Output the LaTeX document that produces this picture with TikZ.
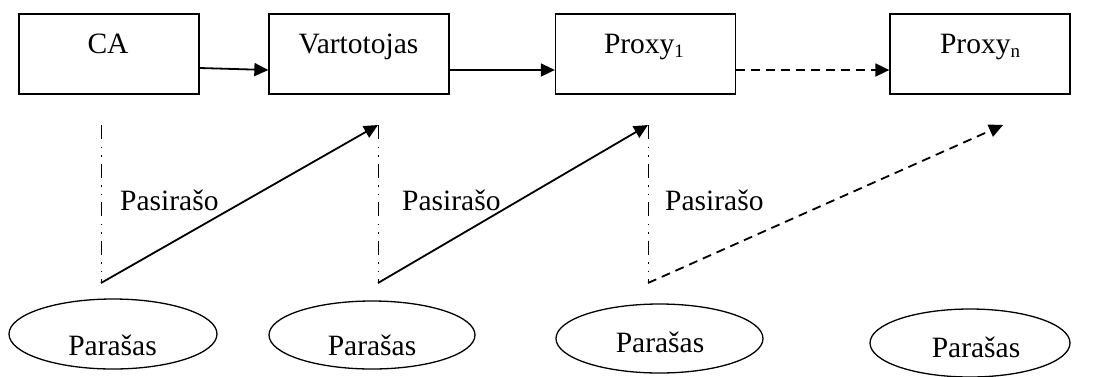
\documentclass[tikz,border=0pt]{standalone}
\usepackage{fontspec}
\setmainfont{Liberation Serif}
\usetikzlibrary{arrows.meta,shapes.geometric}
\newcommand{\lowidx}[1]{\raisebox{-4pt}{\fontsize{19}{20}\selectfont #1}}
\begin{document}
\begin{tikzpicture}[x=1pt,y=-1pt,
  box/.style={draw, line width=1.3pt, minimum width=180pt, minimum height=80pt, inner sep=0pt},
  oval/.style={draw, ellipse, line width=1.3pt, inner sep=0pt},
  txt/.style={anchor=base, inner sep=0pt, font=\fontsize{29.5}{34}\selectfont},
  lbl/.style={anchor=base west, inner sep=0pt, font=\fontsize{29.5}{34}\selectfont},
  arr/.style={line width=1.8pt, -{Triangle[length=14pt,width=13pt]}},
  dsh/.style={dash pattern=on 9pt off 6pt},
  guide/.style={line width=1pt, dash pattern=on 14pt off 7.5pt on 1.5pt off 7pt on 1.5pt off 7pt}
]
\useasboundingbox (0,0) rectangle (1110,376);

% chain of certificate holders
\node[box] (ca)   at (109,54)   {};
\node[box] (vart) at (359,54)   {};
\node[box] (px1)  at (645.5,54) {};
\node[box] (pxn)  at (980,54)   {};
\node[txt] (ca-t)   at (108,53)   {CA};
\node[txt] (vart-t) at (358.5,53) {Vartotojas};
\node[txt] (px1-t)  at (644,53)   {Proxy\lowidx{1}};
\node[txt] (pxn-t)  at (980,53)   {Proxy\lowidx{n}};

\draw[arr] ([yshift=-14pt]ca.east) -- ([yshift=-16pt]vart.west);
\draw[arr] ([yshift=-16pt]vart.east) -- ([yshift=-16pt]px1.west);
\draw[arr,dsh] ([yshift=-16pt]px1.east) -- ([yshift=-16pt]pxn.west);

% signing steps
\coordinate (g1t) at (101,125);
\coordinate (g1b) at (101,283);
\coordinate (g2t) at (378,125);
\coordinate (g2b) at (378,283);
\coordinate (g3t) at (648,125);
\coordinate (g3b) at (648,283);
\coordinate (g4t) at (1003,125);

\draw[guide] (g1t) -- (g1b);
\draw[guide] (g2t) -- (g2b);
\draw[guide] (g3t) -- (g3b);
\draw[arr] (g1b) -- (g2t);
\draw[arr] (g2b) -- (g3t);
\draw[arr,dsh] (g3b) -- (g4t);

\node[lbl] (s1) at (120,210) {Pasirašo};
\node[lbl] (s2) at (402,210) {Pasirašo};
\node[lbl] (s3) at (665,210) {Pasirašo};

% signatures
\node[oval, minimum width=208pt, minimum height=70pt] (e1) at (113,334)   {};
\node[oval, minimum width=206pt, minimum height=68pt] (e2) at (372,335)   {};
\node[oval, minimum width=207pt, minimum height=69pt] (e3) at (659.5,338.5) {};
\node[oval, minimum width=200pt, minimum height=68pt] (e4) at (970,343)   {};
\node[txt] (e1-t) at (112.5,355) {Parašas};
\node[txt] (e2-t) at (372,355)   {Parašas};
\node[txt] (e3-t) at (660,352)   {Parašas};
\node[txt] (e4-t) at (976,357)   {Parašas};
\end{tikzpicture}
\end{document}
